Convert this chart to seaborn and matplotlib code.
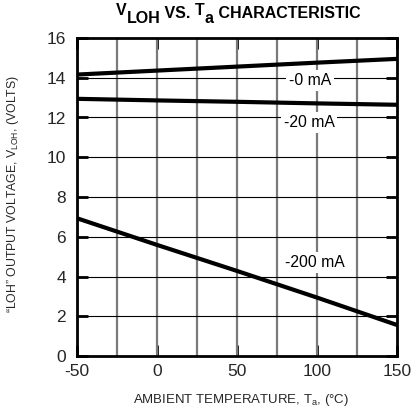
import numpy as np
import pandas as pd
import matplotlib
matplotlib.use("Agg")
import matplotlib.pyplot as plt
import seaborn as sns

# Data
temps = [-50, 0, 50, 100, 150]
v_0ma = [14.16, 14.36, 14.56, 14.76, 14.95]
v_20ma = [12.94, 12.86, 12.79, 12.71, 12.64]
v_200ma = [6.93, 5.59, 4.28, 2.94, 1.56]
series_names = ["-0 mA", "-20 mA", "-200 mA"]
label_pos_x = [95.4, 95.0, 98.8]
label_pos_y = [13.86, 11.76, 4.71]

x_ticks = [-50, 0, 50, 100, 150]
y_ticks = [0, 2, 4, 6, 8, 10, 12, 14, 16]

sns.set_theme(style="white")
plt.rcParams['font.family'] = ['Liberation Sans', 'DejaVu Sans']
plt.rcParams['axes.unicode_minus'] = False
plt.rcParams['mathtext.fontset'] = 'custom'
plt.rcParams['mathtext.rm'] = 'Liberation Sans'
plt.rcParams['mathtext.it'] = 'Liberation Sans'
plt.rcParams['mathtext.bf'] = 'Liberation Sans:bold'

df = pd.DataFrame({
    "temp": temps * 3,
    "volt": v_0ma + v_20ma + v_200ma,
    "series": sum([[n] * len(temps) for n in series_names], []),
})

W, H = 412, 415
fig = plt.figure(figsize=(W / 100, H / 100), dpi=100)
ax = fig.add_axes([77 / W, 1 - 356 / H, 320 / W, 318 / H])

# grid
for xv in np.arange(-25, 150, 25):
    ax.axvline(xv, color="#7a7a7a", lw=1.6, zorder=1)
for yv in y_ticks[1:-1]:
    ax.axhline(yv, color="black", lw=0.8, zorder=1)

sns.lineplot(data=df, x="temp", y="volt", hue="series",
             palette=["black"] * 3, linewidth=3.0, legend=False,
             ax=ax, zorder=3)

for name, lx, ly in zip(series_names, label_pos_x, label_pos_y):
    ax.text(lx, ly, name, ha="center", va="center", fontsize=11.3,
            color="black", zorder=4,
            bbox=dict(facecolor="white", edgecolor="none", pad=2.0))

ax.set_xlim(-50, 150)
ax.set_ylim(0, 16)
ax.set_xticks(x_ticks)
ax.set_yticks(y_ticks)
ax.tick_params(axis="both", which="major", direction="in", length=8, width=2,
               labelsize=12.5, top=True, right=True, bottom=True, left=True,
               color="black")
ax.tick_params(axis="x", pad=6)
ax.tick_params(axis="y", pad=8)
for s in ax.spines.values():
    s.set_linewidth(2)
    s.set_color("black")

ax.set_xlabel("AMBIENT TEMPERATURE, T$_\\mathregular{a}$, (°C)", fontsize=9.5)
ax.xaxis.set_label_coords((241 - 77) / 320, (356 - 392) / 318)
ax.set_ylabel("\u201cLOH\u201d OUTPUT VOLTAGE, V$_\\mathregular{LOH}$, (VOLTS)", fontsize=8.8)
ax.yaxis.set_label_coords((21 - 77) / 320, (356 - 194) / 318)

# Title built from pieces so the subscripts stay full size
renderer = fig.canvas.get_renderer()
title_pieces = [("V", 3.3), ("LOH", -5.0), (" VS. ", 0.0), ("T", 3.3),
                ("a", -5.0), (" CHARACTERISTIC", 0.0)]
base_px = 18.3
texts, widths = [], []
for s, dy in title_pieces:
    t = fig.text(0, 0, s, ha="left", va="baseline", fontsize=11.5,
                 fontweight="bold", color="black")
    widths.append(t.get_window_extent(renderer).width)
    texts.append(t)
xpos = 238 - sum(widths) / 2
for t, w, (s, dy) in zip(texts, widths, title_pieces):
    t.set_position((xpos / W, (H - base_px + dy) / H))
    xpos += w

fig.savefig("out.png", dpi=100)
